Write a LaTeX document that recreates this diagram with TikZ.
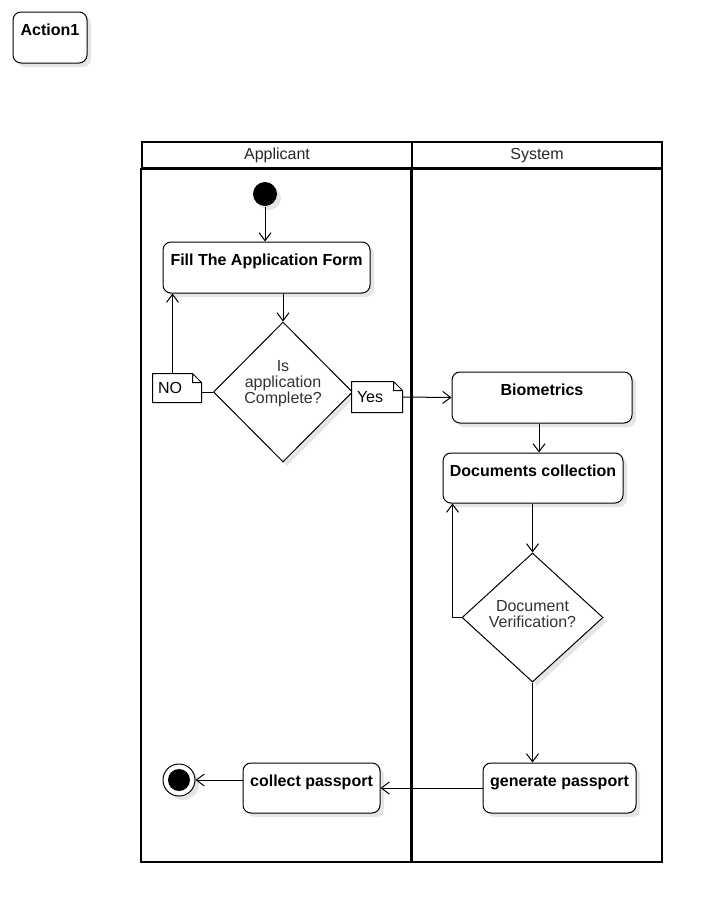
\documentclass[tikz,border=0pt]{standalone}
\usepackage{fontspec}
\setmainfont{Liberation Sans}
\usetikzlibrary{arrows.meta,shapes.geometric,shadows,positioning}

\begin{document}
\begin{tikzpicture}[x=1pt,y=-1pt,>={Straight Barb[length=8pt,width=12pt]},line width=1pt,
  shade/.style={drop shadow={shadow xshift=4pt,shadow yshift=-4pt,opacity=0.1,fill=black}},
  action/.style={draw,rounded corners=8pt,fill=white,shade,inner sep=4pt,
    text height=19pt,text depth=23pt,font=\fontsize{16}{17}\selectfont\bfseries},
  decision/.style={diamond,draw,fill=white,shade,inner sep=0pt},
  says/.style={align=center,text=black!80,font=\fontsize{16}{16}\selectfont},
  note/.style={fill=white,inner xsep=5pt,inner ysep=0pt,align=left,
    font=\fontsize{16}{17}\selectfont},
  lane head/.style={draw,line width=2pt,minimum width=270pt,minimum height=26pt,
    inner sep=0pt,text height=12pt,text depth=3pt,text=black!85,font=\fontsize{16}{17}\selectfont}]

  \useasboundingbox (0,0) rectangle (713,913);

  % swimlanes
  \node[lane head] (applicant) at (277,155) {Applicant};
  \node[lane head,minimum width=250pt] (system) at (537,155) {System};
  \draw[line width=2pt] (applicant.south west) rectangle (412,862)
    (system.south west) rectangle (662,862);

  \node[action,minimum width=74pt,minimum height=51pt] (action1) at (50,37.5) {Action1};

  \node[circle,fill=black,minimum size=24pt,shade] (start) at (265,194) {};
  \node[action,minimum width=207pt,minimum height=51pt] (fill) at (266.5,267.5) {Fill The Application Form};
  \node[decision,minimum width=139pt,minimum height=140pt,
    label={[says,yshift=8pt]center:Is\\application\\Complete?}] (check) at (283,392) {};
  \node[action,minimum width=180pt,minimum height=51pt] (bio) at (542,397.5) {Biometrics};
  \node[action,minimum width=180pt,minimum height=50pt] (docs) at (533,478) {Documents collection};
  \node[decision,minimum width=141pt,minimum height=129pt,
    label={[says,yshift=3.5pt]center:Document\\Verification?}] (verify) at (532.5,617.5) {};
  \node[action,minimum width=153pt,minimum height=50pt] (generate) at (559.5,788) {generate passport};
  \node[action,minimum width=137pt,minimum height=50pt] (collect) [left=102pt of generate] {collect passport};
  \node[circle,draw,fill=white,minimum size=32pt,inner sep=0pt,shade] (stop) at (179,780) {};
  \node[circle,fill=black,minimum size=22pt,inner sep=0pt] at (stop) {};

  \path[->]
    (start) edge (start |- fill.north)
    (check.north |- fill.south) edge (check.north)
    ([xshift=-3pt]bio.south) edge ([xshift=-3pt]bio.south |- docs.north)
    (verify.north |- docs.south) edge (verify.north)
    (verify.south) edge (verify.south |- generate.north)
    (generate.west) edge (collect.east)
    (stop -| collect.west) edge (stop.east);
  \draw[->] (check.west) -| ([xshift=10pt]fill.south west);
  \draw[->] (verify.west) -| ([xshift=10pt]docs.south west);

  % guard notes
  \node[note,text width=38pt,minimum height=28pt] (no) at (177,388) {NO};
  \node[note,text width=40pt,minimum height=30pt] (yes) at (377,397) {Yes};
  \foreach \n in {no,yes}
    \draw (\n.south west) -- (\n.north west) -- ([xshift=-9pt]\n.north east)
      -- ([yshift=-9pt]\n.north east) -- (\n.south east) -- cycle
      ([xshift=-9pt]\n.north east) |- ([yshift=-9pt]\n.north east);
  \draw[->] (yes.east) -- (bio.west);
\end{tikzpicture}
\end{document}
